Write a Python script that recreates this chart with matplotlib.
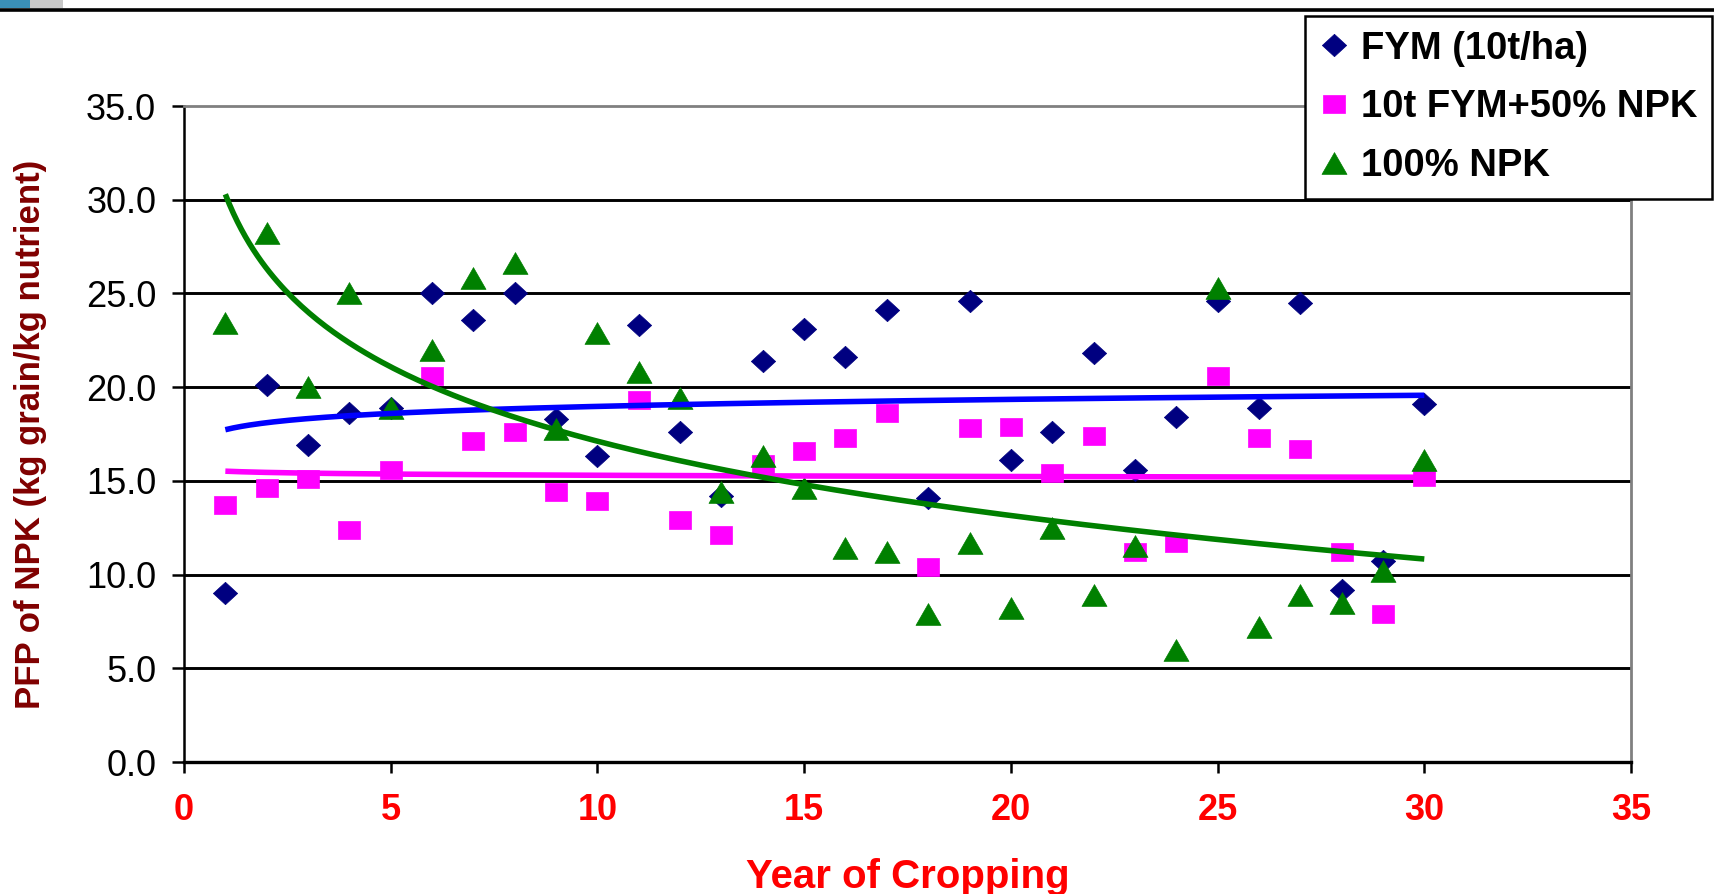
import numpy as np
import matplotlib
matplotlib.use("Agg")
import matplotlib.pyplot as plt
from matplotlib.lines import Line2D
from matplotlib.patches import Rectangle

plt.rcParams['font.family'] = ['Liberation Sans', 'DejaVu Sans']

# ---------------- data ----------------
years = list(range(1, 31))
fym = [9.0, 20.1, 16.9, 18.6, 18.9, 25.0, 23.6, 25.0, 18.3, 16.3,
       23.3, 17.6, 14.2, 21.4, 23.1, 21.6, 24.1, 14.1, 24.6, 16.1,
       17.6, 21.8, 15.6, 18.4, 24.6, 18.9, 24.5, 9.2, 10.7, 19.1]
fym_npk50 = [13.7, 14.6, 15.1, 12.4, 15.6, 20.6, 17.1, 17.6, 14.4, 13.9,
             19.3, 12.9, 12.1, 15.9, 16.6, 17.3, 18.6, 10.4, 17.8, 17.9,
             15.4, 17.4, 11.2, 11.7, 20.6, 17.3, 16.7, 11.2, 7.9, 15.2]
npk100 = [23.4, 28.2, 20.0, 25.0, 18.9, 22.0, 25.8, 26.6, 17.75, 22.9,
          20.8, 19.4, 14.4, 16.3, 14.6, 11.4, 11.2, 7.9, 11.7, 8.2,
          12.5, 8.9, 11.5, 6.0, 25.3, 7.2, 8.9, 8.5, 10.2, 16.1]
labels = ["FYM (10t/ha)", "10t FYM+50% NPK", "100% NPK"]
xticks = [0, 5, 10, 15, 20, 25, 30, 35]
yticks = [0, 5, 10, 15, 20, 25, 30, 35]

W, H = 1714, 894
fig = plt.figure(figsize=(W / 100, H / 100), dpi=100)
ax = fig.add_axes([184 / W, 1 - 762 / H, 1447 / W, 656 / H])

# custom markers (slightly wide, like the reference)
diamond = [(0, 0.92), (1, 0), (0, -0.92), (-1, 0), (0, 0.92)]
square = [(-1, -0.85), (1, -0.85), (1, 0.85), (-1, 0.85), (-1, -0.85)]
triangle = [(0, 0.87), (1, -0.87), (-1, -0.87), (0, 0.87)]

x = np.array(years, dtype=float)
series = [
    (fym, diamond, 17.5, '#000080', '#0000FF'),
    (fym_npk50, square, 15.8, '#FF00FF', '#FF00FF'),
    (npk100, triangle, 18.0, '#008000', '#008000'),
]
xs = np.linspace(x.min(), x.max(), 300)
for (vals, mk, ms, mc, lc), lab in zip(series, labels):
    ax.plot(x, vals, linestyle='none', marker=mk, markersize=ms,
            markerfacecolor=mc, markeredgecolor=mc, markeredgewidth=0.5,
            label=lab, zorder=3)
for (vals, mk, ms, mc, lc) in series:
    # logarithmic trendline fitted to the series
    b, a = np.polyfit(np.log(x), np.array(vals), 1)
    ax.plot(xs, a + b * np.log(xs), color=lc, lw=4.0, zorder=4,
            solid_capstyle='butt')

ax.set_xlim(0, 35)
ax.set_ylim(0, 35)
ax.set_xticks(xticks)
ax.set_yticks(yticks)
ax.set_yticklabels([f"{v:.1f}" for v in yticks])
ax.set_xticklabels([str(v) for v in xticks])

for v in yticks[1:-1]:
    ax.axhline(v, color='black', lw=2.1, zorder=1)

ax.spines['left'].set_color('black')
ax.spines['left'].set_linewidth(1.8)
ax.spines['bottom'].set_color('black')
ax.spines['bottom'].set_linewidth(2.4)
ax.spines['top'].set_color('#808080')
ax.spines['top'].set_linewidth(2.0)
ax.spines['right'].set_color('#808080')
ax.spines['right'].set_linewidth(2.0)

ax.tick_params(axis='y', direction='out', length=9, width=1.8,
               colors='black', labelsize=26, pad=11)
ax.tick_params(axis='x', direction='out', length=8, width=1.8,
               colors='black', labelsize=26, pad=14, labelcolor='#FF0000')
for t in ax.get_xticklabels():
    t.set_fontweight('bold')

ax.set_xlabel("Year of Cropping", fontsize=29, fontweight='bold',
              color='#FF0000', va='center')
ax.xaxis.set_label_coords(0.5, -0.175)
ax.set_ylabel("PFP of NPK (kg grain/kg nutrient)", fontsize=25,
              fontweight='bold', color='#800000', va='center')
ax.yaxis.set_label_coords(-0.106, 0.5)

leg = ax.legend(loc='upper right', bbox_to_anchor=(1712 / W, 1 - 16 / H),
                bbox_transform=fig.transFigure, borderaxespad=0,
                prop={'size': 27.5, 'weight': 'bold'}, frameon=True,
                fancybox=False, shadow=False, framealpha=1,
                borderpad=0.38, handlelength=0.8, handletextpad=0.3,
                labelspacing=0.6, numpoints=1)
leg.get_frame().set_edgecolor('black')
leg.get_frame().set_linewidth(1.8)
leg.set_zorder(10)

# slide header decoration
fig.add_artist(Line2D([0, 1], [1 - 10 / H, 1 - 10 / H], transform=fig.transFigure,
                      color='black', lw=2.6))
fig.add_artist(Rectangle((0, 1 - 8 / H), 30 / W, 8 / H, transform=fig.transFigure,
                         color='#3A8FB7', lw=0))
fig.add_artist(Rectangle((30 / W, 1 - 8 / H), 33 / W, 8 / H, transform=fig.transFigure,
                         color='#C8C8C8', lw=0))

fig.savefig("out.png", dpi=100, facecolor='white')
